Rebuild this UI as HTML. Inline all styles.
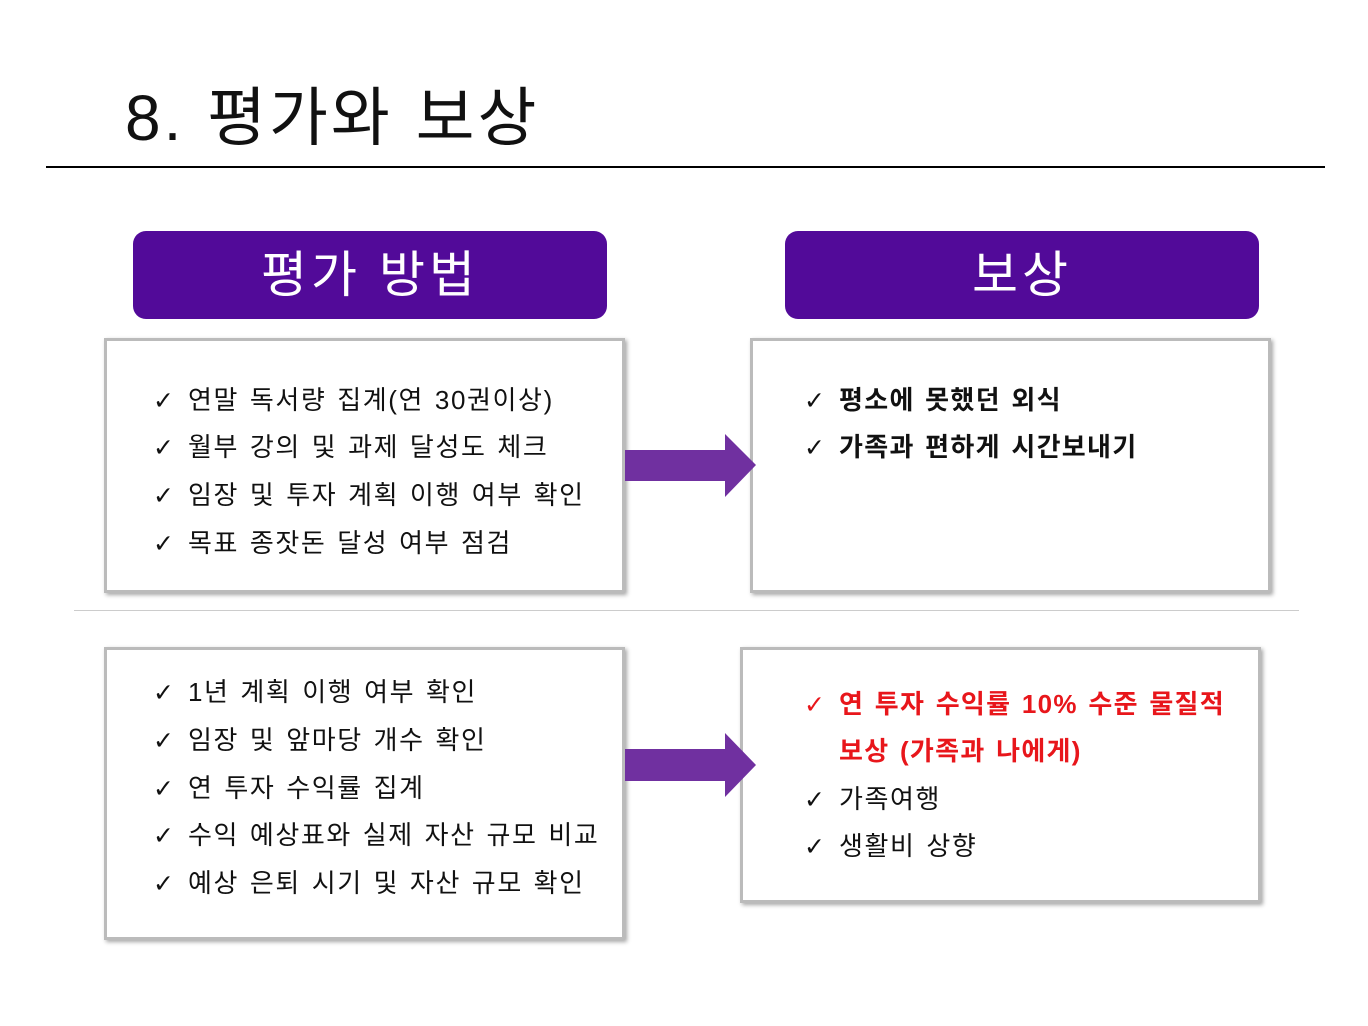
<!DOCTYPE html>
<html><head><meta charset="utf-8"><style>
body{margin:0;width:1368px;height:1026px;background:#fff;position:relative;overflow:hidden;font-family:"Liberation Sans","Noto Sans CJK KR","NanumGothic",sans-serif;}
.a{position:absolute}
.title{left:125px;top:78px;font-size:64px;line-height:80px;color:#111;letter-spacing:3px;word-spacing:2px}
.hd{background:#520a99;border-radius:13px;color:#fff;font-size:50px;text-align:center;line-height:88px;height:88px;width:474px;top:231px;letter-spacing:4px}
.box{border:3px solid #bbb;box-shadow:2px 2px 4px rgba(0,0,0,.35);background:#fff;box-sizing:border-box}
.ln{position:absolute;font-size:26px;line-height:48px;white-space:nowrap;color:#111;letter-spacing:1.6px;word-spacing:2px}
.ck{display:inline-block;width:35px;font-family:"DejaVu Sans",sans-serif;font-size:25px;letter-spacing:0}
.b{font-weight:bold;letter-spacing:1.3px;word-spacing:2px}
.r{color:#e8161b}
</style></head><body>
<div class="a title">8. 평가와 보상</div>
<div class="a" style="left:46px;top:166px;width:1279px;height:2px;background:#000"></div>
<div class="a hd" style="left:133px">평가 방법</div>
<div class="a hd" style="left:785px">보상</div>
<div class="a" style="left:74px;top:610px;width:1225px;height:1px;background:#ccc"></div>

<div class="a box" style="left:104px;top:338px;width:521px;height:255px"></div>
<div class="a box" style="left:750px;top:338px;width:521px;height:255px"></div>
<div class="a box" style="left:104px;top:647px;width:521px;height:293px"></div>
<div class="a box" style="left:740px;top:647px;width:521px;height:256px"></div>

<svg class="a" style="left:0;top:0" width="1368" height="1026">
<polygon points="625,450 725,450 725,434 756,465 725,497 725,481 625,481" fill="#7030a0"/>
<polygon points="625,749 725,749 725,733 756,765 725,797 725,781 625,781" fill="#7030a0"/>
</svg>

<div class="ln" style="left:153px;top:376px"><span class="ck">✓</span>연말 독서량 집계(연 30권이상)</div>
<div class="ln" style="left:153px;top:423px"><span class="ck">✓</span>월부 강의 및 과제 달성도 체크</div>
<div class="ln" style="left:153px;top:471px"><span class="ck">✓</span>임장 및 투자 계획 이행 여부 확인</div>
<div class="ln" style="left:153px;top:519px"><span class="ck">✓</span>목표 종잣돈 달성 여부 점검</div>

<div class="ln b" style="left:804px;top:376px"><span class="ck">✓</span>평소에 못했던 외식</div>
<div class="ln b" style="left:804px;top:423px"><span class="ck">✓</span>가족과 편하게 시간보내기</div>

<div class="ln" style="left:153px;top:668px"><span class="ck">✓</span>1년 계획 이행 여부 확인</div>
<div class="ln" style="left:153px;top:716px"><span class="ck">✓</span>임장 및 앞마당 개수 확인</div>
<div class="ln" style="left:153px;top:764px"><span class="ck">✓</span>연 투자 수익률 집계</div>
<div class="ln" style="left:153px;top:811px"><span class="ck">✓</span>수익 예상표와 실제 자산 규모 비교</div>
<div class="ln" style="left:153px;top:859px"><span class="ck">✓</span>예상 은퇴 시기 및 자산 규모 확인</div>

<div class="ln b r" style="left:804px;top:680px"><span class="ck">✓</span>연 투자 수익률 10% 수준 물질적</div>
<div class="ln b r" style="left:839px;top:727px">보상 (가족과 나에게)</div>
<div class="ln" style="left:804px;top:775px"><span class="ck">✓</span>가족여행</div>
<div class="ln" style="left:804px;top:822px"><span class="ck">✓</span>생활비 상향</div>
</body></html>
